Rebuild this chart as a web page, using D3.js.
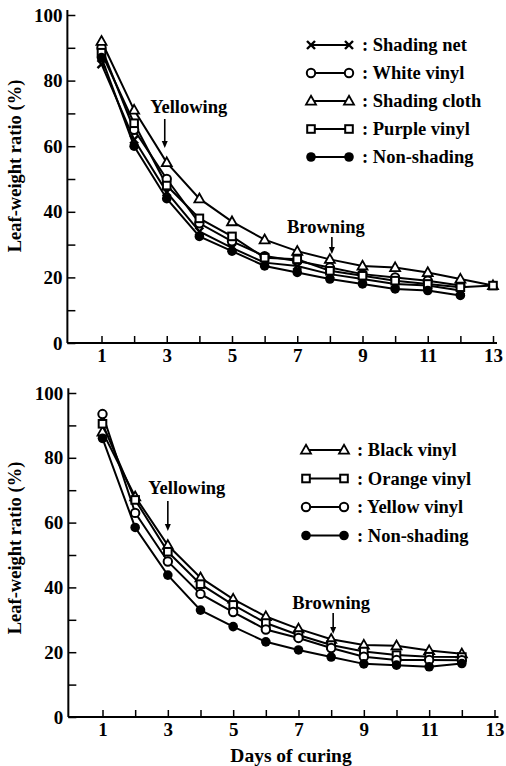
<!DOCTYPE html>
<html><head><meta charset="utf-8">
<script src="https://cdn.jsdelivr.net/npm/d3@7/dist/d3.min.js"></script>
<style>
body{margin:0;background:#fff;}
text{font-family:"Liberation Serif","Times New Roman",serif;fill:#000;}
</style></head>
<body><svg id="c" width="506" height="766"></svg>
<script>
const days = [1,2,3,4,5,6,7,8,9,10,11,12,13];
const yTicks = [0,10,20,30,40,50,60,70,80,90,100];
const xTickLabels = [1,3,5,7,9,11,13];

// Top panel series
const topNames = ["Shading net","White vinyl","Shading cloth","Purple vinyl","Non-shading"];
const topShapes = ["cross","circle","triangle","square","dot"];
const shadingNet   = [85, 62, 46, 34, 29, 24.5, 23.5, 21, 19.5, 18, 17.5, 16];
const whiteVinyl   = [90, 65, 50, 36.5, 31, 26.5, 25, 23, 21, 20, 19, 17.5];
const shadingCloth = [92, 71, 55, 44, 37, 31.5, 28, 25.5, 23.5, 23, 21.5, 19.5, 17.5];
const purpleVinyl  = [88.5, 67, 48, 38, 32.5, 26, 25.5, 22, 20.5, 19, 18, 17, 17.5];
const nonShadingTop= [87, 60, 44, 32.5, 28, 23.5, 21.5, 19.5, 18, 16.5, 16, 14.5];

// Bottom panel series
const botNames = ["Black vinyl","Orange vinyl","Yellow vinyl","Non-shading"];
const botShapes = ["triangle","square","circle","dot"];
const blackVinyl   = [88, 68, 53, 43, 36.4, 31, 27.2, 24, 22.2, 22, 20.5, 19.5];
const orangeVinyl  = [90.5, 67, 51, 41, 34.6, 29, 25.3, 22.2, 20.2, 19.1, 18.6, 18.5];
const yellowVinyl  = [93.5, 63, 48, 38, 32.4, 27, 24.4, 21.3, 18.6, 17.6, 17.6, 17.5];
const nonShadingBot= [86, 58.5, 43.8, 33, 27.9, 23.2, 20.7, 18.5, 16.4, 16, 15.5, 16.5];

const svg = d3.select("#c");

function marker(g, shape, cx, cy){
  if(shape==="circle") g.append("circle").attr("cx",cx).attr("cy",cy).attr("r",4.2).attr("fill","#fff").attr("stroke","#000").attr("stroke-width",2);
  else if(shape==="dot") g.append("circle").attr("cx",cx).attr("cy",cy).attr("r",4.8).attr("fill","#000");
  else if(shape==="square") g.append("rect").attr("x",cx-3.8).attr("y",cy-3.8).attr("width",7.6).attr("height",7.6).attr("fill","#fff").attr("stroke","#000").attr("stroke-width",2);
  else if(shape==="triangle") g.append("path").attr("d",`M${cx},${cy-5.2}L${cx+5},${cy+3.6}L${cx-5},${cy+3.6}Z`).attr("fill","#fff").attr("stroke","#000").attr("stroke-width",1.8);
  else if(shape==="cross") g.append("path").attr("d",`M${cx-4},${cy-4}L${cx+4},${cy+4}M${cx-4},${cy+4}L${cx+4},${cy-4}`).attr("stroke","#000").attr("stroke-width",2.4);
}

function panel(opts){
  const x = d3.scaleLinear().domain([1,13]).range(opts.xr);
  const y = d3.scaleLinear().domain([0,100]).range(opts.yr);
  const g = svg.append("g");
  const x0 = x(0)-1.5, xEnd = x(13)+4;
  g.append("line").attr("x1",x0).attr("x2",x0).attr("y1",y(101.5)).attr("y2",y(0)).attr("stroke","#000").attr("stroke-width",2);
  g.append("line").attr("x1",x0).attr("x2",xEnd).attr("y1",y(0)).attr("y2",y(0)).attr("stroke","#000").attr("stroke-width",2);
  const ya = d3.axisLeft(y).tickValues(yTicks).tickSizeInner(-8).tickSizeOuter(0).tickPadding(5)
     .tickFormat(d => d%20===0 ? d : "");
  const yg = g.append("g").attr("transform",`translate(${x0},0)`).call(ya);
  yg.select(".domain").remove();
  yg.selectAll("line").attr("stroke-width",1.5);
  yg.selectAll("text").attr("font-size",19).attr("font-weight","bold").attr("font-family","Liberation Serif");
  const xa = d3.axisBottom(x).tickValues(days).tickSizeInner(-7).tickSizeOuter(0).tickPadding(6)
     .tickFormat(d => xTickLabels.includes(d) ? d : "");
  const xg = g.append("g").attr("transform",`translate(0,${y(0)})`).call(xa);
  xg.select(".domain").remove();
  xg.selectAll("line").attr("stroke-width",1.5);
  xg.selectAll("text").attr("font-size",19).attr("font-weight","bold").attr("font-family","Liberation Serif");
  g.append("text").attr("transform",`translate(${opts.ytx},${opts.yty}) rotate(-90)`).attr("text-anchor","middle")
    .attr("font-size",18.5).attr("font-weight","bold").text("Leaf-weight ratio (%)");
  const line = d3.line().x((d,i)=>x(days[i])).y(d=>y(d));
  opts.series.forEach(s=>{
    g.append("path").attr("d",line(s)).attr("fill","none").attr("stroke","#000").attr("stroke-width",2);
  });
  opts.series.forEach((s,k)=>{
    s.forEach((v,i)=>marker(g, opts.shapes[k], x(days[i]), y(v)));
  });
  opts.notes.forEach(n=>{
    g.append("text").attr("x",x(n.day)+n.dx).attr("y",n.ty).attr("text-anchor","middle").attr("font-size",18.5).attr("font-weight","bold").text(n.label);
    const ax = x(n.day)+n.adx;
    g.append("line").attr("x1",ax).attr("x2",ax).attr("y1",n.a1).attr("y2",n.a2-4).attr("stroke","#000").attr("stroke-width",1.6);
    g.append("path").attr("d",`M${ax-3},${n.a2-7}L${ax+3},${n.a2-7}L${ax},${n.a2}Z`).attr("fill","#000");
  });
  opts.legend.names.forEach((nm,k)=>{
    const ly = opts.legend.y0 + k*opts.legend.dy;
    const lx = opts.legend.x;
    g.append("line").attr("x1",lx).attr("x2",lx+38).attr("y1",ly).attr("y2",ly).attr("stroke","#000").attr("stroke-width",2);
    marker(g, opts.shapes[k], lx, ly);
    marker(g, opts.shapes[k], lx+38, ly);
    g.append("text").attr("x",lx+51).attr("y",ly+6).attr("font-size",18.5).attr("font-weight","bold").text(": "+nm);
  });
  return {x,y};
}

panel({
  xr:[101.5,493], yr:[343,15], ytx:21, yty:166,
  series:[shadingNet, whiteVinyl, shadingCloth, purpleVinyl, nonShadingTop],
  shapes: topShapes,
  notes:[{label:"Yellowing", day:3, dx:22, ty:113, adx:-2, a1:119, a2:148},
         {label:"Browning", day:8, dx:-4, ty:233, adx:2, a1:237, a2:254}],
  legend:{names:topNames, x:311, y0:45, dy:28}
});
panel({
  xr:[102.5,494.5], yr:[717,393], ytx:21, yty:548,
  series:[blackVinyl, orangeVinyl, yellowVinyl, nonShadingBot],
  shapes: botShapes,
  notes:[{label:"Yellowing", day:3, dx:19, ty:494, adx:0, a1:501, a2:531},
         {label:"Browning", day:8, dx:0, ty:609, adx:2, a1:613, a2:634}],
  legend:{names:botNames, x:306, y0:450, dy:28.5}
});
svg.append("text").attr("x",291).attr("y",762).attr("text-anchor","middle").attr("font-size",19.5).attr("font-weight","bold").text("Days of curing");
</script></body></html>
